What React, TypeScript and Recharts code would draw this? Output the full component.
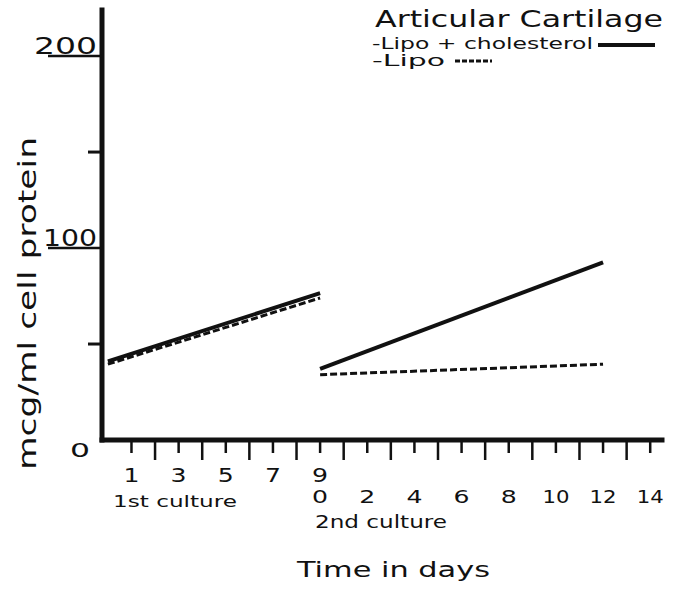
import { LineChart, Line, XAxis, YAxis, Legend } from "recharts"

// days counted inside each culture
const firstCultureDays = [0, 9]
const secondCultureDays = [0, 12]

// mcg/ml cell protein
const cholesterolFirst = [41, 76.5]
const lipoFirst = [39.5, 74]
const cholesterolSecond = [37, 92.5]
const lipoSecond = [34, 39.5]

// the 2nd culture starts where the 1st one stops (day 9)
const secondStart = 9

const dayTicks = [1, 2, 3, 4, 5, 6, 7, 8, 9, 10, 11, 12, 13, 14, 15, 16, 17, 18, 19, 20, 21, 22, 23]
const firstCultureLabels = [1, 3, 5, 7, 9]
const secondCultureLabels = [0, 2, 4, 6, 8, 10, 12, 14]
const yTicks = [0, 50, 100, 150, 200]
const yLabels = [0, 100, 200]

const firstRows = firstCultureDays.map((d, i) => ({ t: d, chol: cholesterolFirst[i], lipo: lipoFirst[i] }))
const secondRows = secondCultureDays.map((d, i) => ({
  t: secondStart + d,
  chol: cholesterolSecond[i],
  lipo: lipoSecond[i],
}))

const font = "'DejaVu Sans', sans-serif"
const ink = "#111"

function XTick(props: any) {
  const { x, y, payload } = props
  const t = payload.value
  const len = t % 2 === 0 ? 20 : 13
  const second = t - secondStart
  return (
    <g>
      <line x1={x} x2={x} y1={y} y2={y + len} stroke={ink} strokeWidth={2.5} />
      {firstCultureLabels.includes(t) && (
        <text x={x} y={y + 42} textAnchor="middle" fontFamily={font} fontSize={20} fill={ink}
          textLength={16} lengthAdjust="spacingAndGlyphs">
          {t}
        </text>
      )}
      {second >= 0 && secondCultureLabels.includes(second) && (
        <text x={x} y={y + 63} textAnchor="middle" fontFamily={font} fontSize={18} fill={ink}
          textLength={second >= 10 ? 27 : 16} lengthAdjust="spacingAndGlyphs">
          {second}
        </text>
      )}
    </g>
  )
}

function YTick(props: any) {
  const { x, y, payload } = props
  const v = payload.value
  if (v === 0) {
    return (
      <text x={x - 22} y={y + 17} textAnchor="middle" fontFamily={font} fontSize={19} fill={ink}
        textLength={20} lengthAdjust="spacingAndGlyphs">
        {v}
      </text>
    )
  }
  if (yLabels.includes(v)) {
    const s = String(v)
    const w = s.split("").reduce((a, c) => a + (c === "1" ? 12 : 21), 0)
    return (
      <g>
        <line x1={x - 54} x2={x} y1={y} y2={y} stroke={ink} strokeWidth={2.5} />
        <text x={x - 5} y={y - 2} textAnchor="end" fontFamily={font} fontSize={23} fill={ink}
          textLength={w} lengthAdjust="spacingAndGlyphs">
          {s}
        </text>
      </g>
    )
  }
  return <line x1={x - 14} x2={x} y1={y} y2={y} stroke={ink} strokeWidth={3} />
}

// legend rows, keyed by series name
const legendRows: Record<string, any> = {
  "Lipo + cholesterol": { y: 49, len: 221, size: 15, x1: 228, x2: 285, ly: 45 },
  Lipo: { y: 66, len: 73, size: 15, x1: 85, x2: 122, ly: 61 },
}

function LegendBox(props: any) {
  const items = (props.payload || []).filter((p: any) => p.type !== "none")
  return (
    <svg width={300} height={72}>
      <text x={5} y={27} fontFamily={font} fontSize={23} fill={ink} textLength={288} lengthAdjust="spacingAndGlyphs">
        Articular Cartilage
      </text>
      {items.map((it: any) => {
        const r = legendRows[it.value]
        if (!r) return null
        const dashed = it.value === "Lipo"
        return (
          <g key={it.value}>
            <text x={2} y={r.y} fontFamily={font} fontSize={r.size} fill={ink} textLength={r.len}
              lengthAdjust="spacingAndGlyphs">
              {"-" + it.value}
            </text>
            <line x1={r.x1} x2={r.x2} y1={r.ly} y2={r.ly} stroke={it.color || ink}
              strokeWidth={dashed ? 3 : 4} strokeDasharray={dashed ? "5 2" : undefined} />
          </g>
        )
      })}
    </svg>
  )
}

export default function App() {
  return (
    <div style={{ position: "absolute", left: 0, top: 0, width: 677, height: 590, background: "#fff" }}>
      <LineChart width={677} height={590} margin={{ top: 10, right: 15, bottom: 120, left: 72 }}>
        <XAxis
          type="number"
          dataKey="t"
          domain={[-0.25, 23.5]}
          ticks={dayTicks}
          interval={0}
          height={30}
          tickSize={0}
          tickMargin={0}
          tickLine={false}
          axisLine={{ stroke: ink, strokeWidth: 5, strokeLinecap: "square" }}
          tick={XTick}
          allowDataOverflow
        />
        <YAxis
          type="number"
          domain={[0, 224]}
          ticks={yTicks}
          interval={0}
          width={30}
          tickSize={0}
          tickMargin={0}
          tickLine={false}
          axisLine={{ stroke: ink, strokeWidth: 5, strokeLinecap: "square" }}
          tick={YTick}
          allowDataOverflow
        />
        <Legend
          layout="vertical"
          align="center"
          verticalAlign="middle"
          content={LegendBox}
          wrapperStyle={{ position: "absolute", left: 370, top: 0, width: 300, height: 72 }}
        />
        <Line data={firstRows} dataKey="chol" name="Lipo + cholesterol" stroke={ink} strokeWidth={4}
          dot={false} activeDot={false} isAnimationActive={false} />
        <Line data={firstRows} dataKey="lipo" name="Lipo" stroke={ink} strokeWidth={3} strokeDasharray="7 3"
          dot={false} activeDot={false} isAnimationActive={false} />
        <Line data={secondRows} dataKey="chol" name="Lipo + cholesterol (2nd)" legendType="none" stroke={ink}
          strokeWidth={4} dot={false} activeDot={false} isAnimationActive={false} />
        <Line data={secondRows} dataKey="lipo" name="Lipo (2nd)" legendType="none" stroke={ink} strokeWidth={3}
          strokeDasharray="7 3" dot={false} activeDot={false} isAnimationActive={false} />
      </LineChart>
      <svg width={677} height={590} style={{ position: "absolute", left: 0, top: 0, pointerEvents: "none" }}>
        <text transform="translate(36,303.5) rotate(-90)" x={-166.5} y={0} fontFamily={font} fontSize={24}
          fill={ink} textLength={333} lengthAdjust="spacingAndGlyphs">
          mcg/ml cell protein
        </text>
        <text x={113} y={507} fontFamily={font} fontSize={15} fill={ink} textLength={124} lengthAdjust="spacingAndGlyphs">
          1st culture
        </text>
        <text x={315} y={528} fontFamily={font} fontSize={17} fill={ink} textLength={132} lengthAdjust="spacingAndGlyphs">
          2nd culture
        </text>
        <text x={297} y={577} fontFamily={font} fontSize={21} fill={ink} textLength={193} lengthAdjust="spacingAndGlyphs">
          Time in days
        </text>
      </svg>
    </div>
  )
}
